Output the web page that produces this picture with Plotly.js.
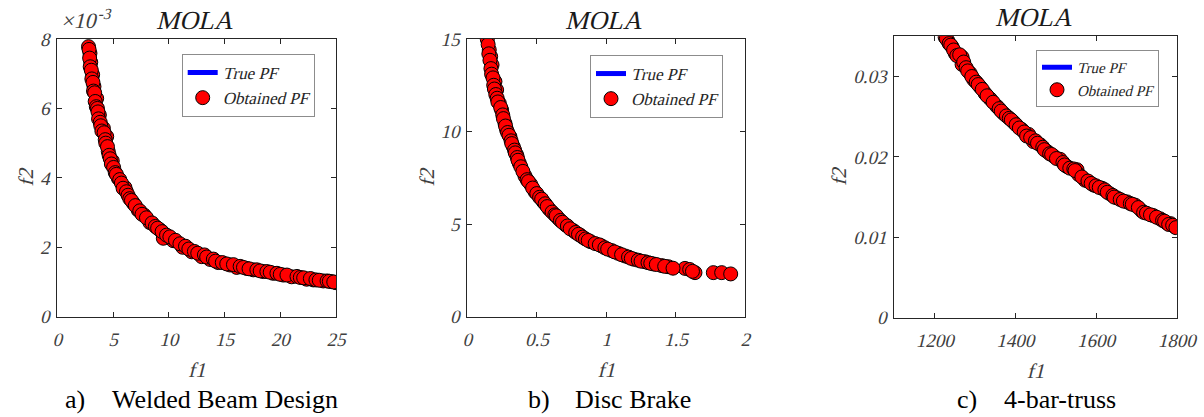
<!DOCTYPE html>
<html>
<head>
<meta charset="utf-8">
<script src="https://cdn.plot.ly/plotly-3.0.1.min.js"></script>
<style>html,body{margin:0;padding:0;background:#fff;}#chart{width:1204px;height:417px;}</style>
</head>
<body>
<div id="chart"></div>
<script>
// ---- Data ----
// a) Welded Beam Design (f2 in units of 1e-3)
const weldF1 = [2.8, 2.93, 3.0, 3.17, 3.29, 3.53, 3.77, 4.13, 4.43, 4.57, 4.93, 5.47, 6.07, 6.82, 7.26, 7.78, 8.31, 9.21, 9.51, 10.4, 11.25, 12.06, 12.95, 13.7, 14.44, 15.49, 16.09, 16.99, 17.58, 18.48, 19.37, 20.27, 21.02, 22.37, 22.96, 23.86, 24.6, 25.0,
  2.85, 2.9, 2.95, 3.05, 3.1, 3.2, 3.25, 3.35, 3.4, 3.5, 3.6, 3.65, 3.7, 3.85, 3.9, 4.0, 4.2, 4.3, 4.35, 4.5, 4.65, 4.75, 4.85, 5.05, 5.2, 5.3, 5.6, 5.75, 5.9, 6.2, 6.35, 6.5, 6.65, 7.0, 7.4, 7.6, 8.0, 8.5, 8.8, 9.0, 9.4, 9.8, 10.1, 10.6, 11.0, 11.5, 11.8, 12.3, 12.6, 13.2, 13.4, 14.0, 14.2, 14.8, 15.2, 15.8, 16.4, 16.7, 17.2, 17.9, 18.2, 18.8, 19.1, 19.7, 20.0, 20.6, 21.5, 21.8, 22.1, 22.7, 23.2, 23.5, 24.2, 24.4, 24.8];
const weldF2 = [7.78, 7.59, 7.33, 6.97, 6.63, 6.29, 5.81, 5.43, 5.19, 4.76, 4.49, 3.99, 3.72, 3.27, 3.07, 2.93, 2.71, 2.5, 2.26, 2.19, 2.0, 1.87, 1.73, 1.65, 1.56, 1.49, 1.42, 1.39, 1.35, 1.3, 1.25, 1.2, 1.15, 1.08, 1.06, 1.03, 1.01, 0.98,
  7.7, 7.45, 7.2, 7.1, 6.85, 6.75, 6.5, 6.45, 6.2, 6.05, 6.0, 5.9, 5.7, 5.6, 5.5, 5.35, 5.3, 5.1, 5.0, 4.9, 4.65, 4.55, 4.4, 4.3, 4.15, 4.1, 3.95, 3.85, 3.7, 3.6, 3.5, 3.4, 3.35, 3.2, 3.05, 2.95, 2.85, 2.7, 2.6, 2.55, 2.45, 2.35, 2.3, 2.2, 2.1, 2.03, 1.95, 1.88, 1.83, 1.78, 1.72, 1.66, 1.6, 1.56, 1.52, 1.5, 1.45, 1.42, 1.38, 1.35, 1.32, 1.3, 1.28, 1.25, 1.22, 1.2, 1.16, 1.13, 1.12, 1.1, 1.06, 1.05, 1.03, 1.02, 1.0];
const weldTrueF1 = [2.8, 3.17, 3.77, 4.57, 5.47, 6.82, 8.31, 10.4, 12.95, 15.49, 18.48, 21.02, 23.86, 25.0];
const weldTrueF2 = [7.78, 6.97, 5.81, 4.76, 3.99, 3.27, 2.71, 2.19, 1.73, 1.49, 1.3, 1.15, 1.03, 0.98];

// b) Disc Brake
const discF1 = [0.144, 0.158, 0.168, 0.178, 0.199, 0.211, 0.23, 0.247, 0.271, 0.283, 0.307, 0.331, 0.355, 0.374, 0.415, 0.456, 0.487, 0.547, 0.59, 0.655, 0.708, 0.763, 0.811, 0.888, 0.967, 1.039, 1.087, 1.135, 1.201, 1.278, 1.338, 1.398, 1.446, 1.566, 1.638, 1.77, 1.83, 1.895,
  0.15, 0.155, 0.163, 0.17, 0.175, 0.185, 0.19, 0.195, 0.205, 0.215, 0.22, 0.24, 0.255, 0.26, 0.275, 0.29, 0.3, 0.315, 0.32, 0.34, 0.345, 0.36, 0.365, 0.385, 0.4, 0.43, 0.44, 0.47, 0.5, 0.52, 0.535, 0.56, 0.575, 0.61, 0.63, 0.64, 0.67, 0.685, 0.72, 0.74, 0.78, 0.8, 0.83, 0.85, 0.87, 0.92, 0.95, 0.99, 1.01, 1.06, 1.11, 1.16, 1.18, 1.23, 1.25, 1.3, 1.32, 1.36, 1.42, 1.48, 1.6, 1.62];
const discF2 = [14.98, 14.41, 14.05, 13.6, 12.7, 12.25, 11.53, 11.17, 10.45, 10.09, 9.72, 9.18, 8.74, 8.29, 7.6, 7.15, 6.75, 6.21, 5.8, 5.31, 4.95, 4.65, 4.41, 4.05, 3.82, 3.57, 3.42, 3.28, 3.1, 2.97, 2.85, 2.76, 2.7, 2.61, 2.38, 2.38, 2.38, 2.31,
  14.7, 14.2, 13.85, 13.4, 13.1, 12.9, 12.5, 12.3, 12.0, 11.8, 11.6, 11.3, 10.9, 10.7, 10.3, 9.95, 9.8, 9.5, 9.35, 9.0, 8.85, 8.6, 8.45, 8.1, 7.85, 7.4, 7.3, 6.95, 6.65, 6.45, 6.35, 6.1, 5.95, 5.65, 5.5, 5.45, 5.2, 5.1, 4.9, 4.75, 4.55, 4.45, 4.3, 4.2, 4.12, 3.95, 3.88, 3.72, 3.65, 3.5, 3.35, 3.22, 3.15, 3.05, 3.0, 2.92, 2.88, 2.82, 2.72, 2.62, 2.55, 2.45];
const discTrueF1 = [0.144, 0.178, 0.23, 0.307, 0.415, 0.547, 0.708, 0.888, 1.087, 1.278, 1.446, 1.566, 1.638];
const discTrueF2 = [14.98, 13.6, 11.53, 9.72, 7.6, 6.21, 4.95, 4.05, 3.42, 2.97, 2.7, 2.61, 2.38];

// c) 4-bar-truss
const trussF1 = [1226, 1232, 1243, 1251, 1268, 1268, 1288, 1297, 1313, 1325, 1338, 1354, 1371, 1396, 1416, 1433, 1445, 1462, 1478, 1495, 1511, 1528, 1553, 1557, 1573, 1594, 1615, 1635, 1652, 1677, 1697, 1713, 1742, 1759, 1775, 1785, 1796,
  1229, 1236, 1240, 1247, 1255, 1262, 1272, 1278, 1282, 1292, 1303, 1308, 1318, 1330, 1345, 1360, 1365, 1378, 1385, 1390, 1402, 1410, 1422, 1428, 1438, 1450, 1455, 1468, 1472, 1485, 1490, 1502, 1518, 1522, 1535, 1545, 1548, 1565, 1580, 1588, 1600, 1608, 1622, 1628, 1642, 1645, 1660, 1668, 1685, 1690, 1705, 1718, 1725, 1735, 1750, 1765, 1770, 1780, 1790, 1798];
const trussF2 = [0.0349, 0.0345, 0.0337, 0.0329, 0.0324, 0.0315, 0.0304, 0.0296, 0.0287, 0.0279, 0.0272, 0.0263, 0.0254, 0.0243, 0.0234, 0.0228, 0.0219, 0.0215, 0.0207, 0.0201, 0.0197, 0.0188, 0.0184, 0.0178, 0.0171, 0.0165, 0.0161, 0.0154, 0.0149, 0.0144, 0.014, 0.0133, 0.0127, 0.0123, 0.0118, 0.0117, 0.0113,
  0.0347, 0.0341, 0.0339, 0.0333, 0.0326, 0.0327, 0.0318, 0.0311, 0.0307, 0.0300, 0.0293, 0.0290, 0.0284, 0.0276, 0.0268, 0.0260, 0.0257, 0.0251, 0.0248, 0.0246, 0.0240, 0.0236, 0.0231, 0.0226, 0.0224, 0.0220, 0.0217, 0.0212, 0.0209, 0.0204, 0.0203, 0.0198, 0.0193, 0.0190, 0.0186, 0.0185, 0.0183, 0.0175, 0.0170, 0.0167, 0.0164, 0.0162, 0.0159, 0.0156, 0.0152, 0.0150, 0.0147, 0.0145, 0.0142, 0.0141, 0.0137, 0.0131, 0.0130, 0.0128, 0.0125, 0.0121, 0.0120, 0.0116, 0.0115, 0.0112];
const trussTrueF1 = [1226, 1251, 1288, 1325, 1371, 1416, 1462, 1511, 1557, 1615, 1677, 1742, 1796];
const trussTrueF2 = [0.0349, 0.0329, 0.0304, 0.0279, 0.0254, 0.0234, 0.0215, 0.0197, 0.0178, 0.0161, 0.0144, 0.0127, 0.0113];

// tick labels
const weldXTicks = [0, 5, 10, 15, 20, 25];
const weldYTicks = [0, 2, 4, 6, 8];
const discXTicks = [0, 0.5, 1, 1.5, 2];
const discYTicks = [0, 5, 10, 15];
const trussXTicks = [1200, 1400, 1600, 1800];
const trussYTicks = [0, 0.01, 0.02, 0.03];

const panelTitle = 'MOLA';
const seriesNames = ['True PF', 'Obtained PF'];
const captionLetters = ['a)', 'b)', 'c)'];
const captionTexts = ['Welded Beam Design', 'Disc Brake', '4-bar-truss'];

// ---- Styling ----
// No serif italic face is installed: the italic texts use the regular serif
// face and are slanted after drawing (captions stay upright).
const SERIF = 'Liberation Serif';
const tickFont = {family: SERIF, size: 19, color: '#404040'};
const axTitleFont = {family: SERIF, size: 21, color: '#404040'};

function lineTrace(x, y, xa, ya, lg) {
  return {x: x, y: y, xaxis: xa, yaxis: ya, legend: lg, type: 'scatter', mode: 'lines',
    name: seriesNames[0], line: {color: '#0000ff', width: 5}, hoverinfo: 'skip'};
}
function markTrace(x, y, xa, ya, lg) {
  return {x: x, y: y, xaxis: xa, yaxis: ya, legend: lg, type: 'scatter', mode: 'markers',
    name: seriesNames[1], marker: {color: '#ff0000', size: 14, line: {color: '#000000', width: 1}}};
}

const data = [
  lineTrace(weldTrueF1, weldTrueF2, 'x', 'y', 'legend'),
  markTrace(weldF1, weldF2, 'x', 'y', 'legend'),
  lineTrace(discTrueF1, discTrueF2, 'x2', 'y2', 'legend2'),
  markTrace(discF1, discF2, 'x2', 'y2', 'legend2'),
  lineTrace(trussTrueF1, trussTrueF2, 'x3', 'y3', 'legend3'),
  markTrace(trussF1, trussF2, 'x3', 'y3', 'legend3')
];

function axis(domain, range, tickvals, title, standoff, labelGap, anchor) {
  return {
    domain: domain, range: range, anchor: anchor, tickmode: 'array', tickvals: tickvals,
    ticktext: tickvals.map(String),
    ticks: 'inside', ticklen: 5, tickcolor: '#262626', tickwidth: 1, ticklabelstandoff: labelGap,
    showline: true, linecolor: '#262626', linewidth: 1, mirror: 'ticks',
    showgrid: false, zeroline: false, tickfont: tickFont,
    title: {text: title, font: axTitleFont, standoff: standoff}
  };
}

const legendBase = {bgcolor: '#ffffff', bordercolor: '#8c8c8c', borderwidth: 1,
  font: {family: SERIF, size: 17, color: '#262626'},
  xanchor: 'left', yanchor: 'top', tracegroupgap: 0, itemwidth: 30};

const yA = [1 - 316.7/417, 1 - 39/417];
const yC = [1 - 317.7/417, 1 - 36.3/417];

const layout = {
  width: 1204, height: 417,
  margin: {l: 0, r: 0, t: 0, b: 0},
  paper_bgcolor: '#ffffff', plot_bgcolor: '#ffffff',
  showlegend: true,
  xaxis: axis([57.3/1204, 336/1204], [0, 25], weldXTicks, 'f1', 12, 6, 'y'),
  yaxis: axis(yA, [0, 8], weldYTicks, 'f2', 0, 3, 'x'),
  xaxis2: axis([467.3/1204, 745.3/1204], [0, 2], discXTicks, 'f1', 12, 6, 'y2'),
  yaxis2: axis(yA, [0, 15], discYTicks, 'f2', 0, 3, 'x2'),
  xaxis3: axis([894.3/1204, 1176.7/1204], [1100, 1800], trussXTicks, 'f1', 12, 6, 'y3'),
  yaxis3: axis(yC, [0, 0.035], trussYTicks, 'f2', 0, 3, 'x3'),
  legend: Object.assign({}, legendBase, {x: 181.7/1204, y: 1 - 54/417}),
  legend2: Object.assign({}, legendBase, {x: 590/1204, y: 1 - 55/417}),
  legend3: Object.assign({}, legendBase, {x: 1036/1204, y: 1 - 50/417, font: {family: SERIF, size: 15, color: '#262626'}}),
  annotations: []
};

const titleFont = {family: SERIF, size: 26, color: '#1a1a1a'};
const titleX = [194, 603.5, 1033];
const titleY = [20, 20, 18];
for (let i = 0; i < 3; i++) {
  layout.annotations.push({text: panelTitle, xref: 'paper', yref: 'paper', x: titleX[i]/1204, y: 1 - titleY[i]/417,
    xanchor: 'center', yanchor: 'middle', showarrow: false, font: titleFont});
}
// exponent label
layout.annotations.push({text: '×10<sup>-3</sup>', xref: 'paper', yref: 'paper', x: 59/1204, y: 1 - 19/417,
  xanchor: 'left', yanchor: 'middle', showarrow: false, font: {family: SERIF, size: 22, color: '#404040'}});

const capFont = {family: SERIF, size: 26, color: '#000000'};
const capLetterX = [63, 526, 955];
const capTextX = [110, 573, 1002];
for (let i = 0; i < 3; i++) {
  layout.annotations.push({text: captionLetters[i], xref: 'paper', yref: 'paper', x: capLetterX[i]/1204, y: 1 - 399/417,
    xanchor: 'left', yanchor: 'middle', showarrow: false, font: capFont});
  layout.annotations.push({text: captionTexts[i], xref: 'paper', yref: 'paper', x: capTextX[i]/1204, y: 1 - 399/417,
    xanchor: 'left', yanchor: 'middle', showarrow: false, font: capFont});
}

const uprightTexts = captionLetters.concat(captionTexts);
function slantItalics() {
  document.querySelectorAll('#chart text').forEach(function (t) {
    const s = (t.textContent || '').trim();
    if (!s || uprightTexts.indexOf(s) >= 0) return;
    const x = parseFloat(t.getAttribute('x')) || 0;
    const y = parseFloat(t.getAttribute('y')) || 0;
    const tr = t.getAttribute('transform') || '';
    t.setAttribute('transform', tr + ' translate(' + x + ',' + y + ') skewX(-14) translate(' + (-x) + ',' + (-y) + ')');
  });
}

Plotly.newPlot('chart', data, layout, {displayModeBar: false, staticPlot: true}).then(slantItalics);
</script>
</body>
</html>
